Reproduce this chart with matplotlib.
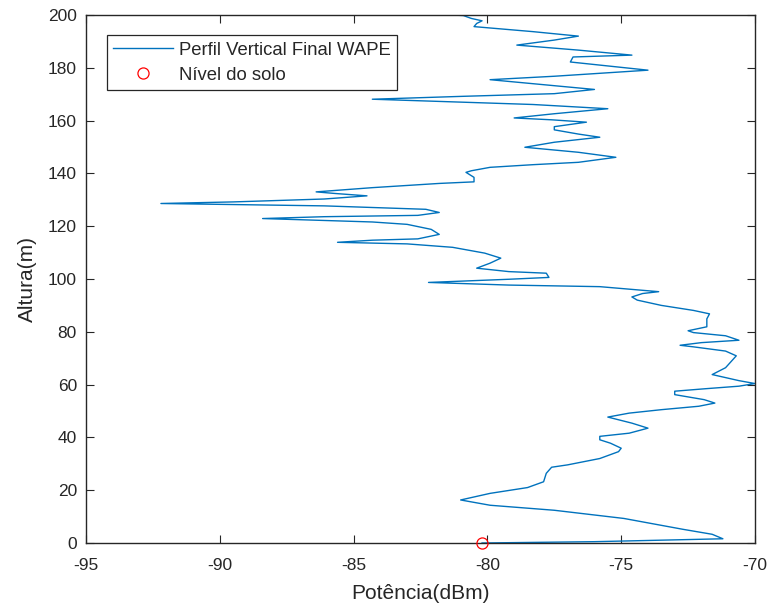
import matplotlib
matplotlib.use("Agg")
import matplotlib.pyplot as plt

plt.rcParams['font.family'] = ['Liberation Sans', 'DejaVu Sans']

potencia = [-80.2, -76.0, -71.2, -71.6, -72.7, -74.9, -77.5, -79.9, -81.0, -79.9,
            -78.5, -77.9, -77.8, -77.6, -77.0, -75.8, -75.1, -75.0, -75.4, -75.8,
            -75.8, -74.7, -74.0, -74.6, -75.5, -74.7, -73.5, -72.1, -71.5, -71.9,
            -73.0, -73.0, -71.9, -70.6, -70.0, -70.6, -71.6, -71.1, -70.7, -71.1,
            -72.3, -72.8, -72.0, -70.6, -71.1, -72.3, -72.5, -71.8, -71.8, -71.7,
            -72.3, -73.5, -74.4, -74.6, -74.2, -73.6, -75.8, -79.2, -82.2, -79.2,
            -77.7, -77.8, -79.2, -80.4, -79.9, -79.5, -80.1, -81.3, -83.0, -85.6,
            -84.3, -82.6, -81.8, -82.1, -83.0, -84.3, -88.4, -86.1, -82.6, -81.8,
            -82.3, -86.1, -92.2, -89.5, -86.1, -84.5, -85.7, -86.4, -84.3, -81.8,
            -80.5, -80.5, -80.8, -80.6, -79.9, -78.3, -76.6, -75.2, -76.6, -78.6,
            -77.5, -75.8, -76.6, -77.5, -77.5, -76.3, -77.6, -79.0, -77.5, -75.5,
            -78.3, -84.3, -80.9, -77.5, -76.0, -78.3, -79.9, -77.5, -74.0, -75.8,
            -76.9, -76.8, -74.6, -76.6, -78.9, -77.5, -76.6, -78.3, -80.5, -80.4,
            -80.2, -80.6, -80.9, -82.0]
altura = [0.0, 0.5, 1.6, 3.3, 5.2, 9.3, 12.4, 14.3, 16.3, 18.8,
          21.0, 23.2, 26.4, 28.7, 29.6, 32.0, 34.6, 35.9, 37.8, 39.1,
          40.4, 41.6, 43.5, 45.4, 47.7, 49.2, 50.5, 51.8, 53.0, 54.3,
          56.2, 57.5, 58.4, 59.4, 60.4, 61.5, 63.8, 66.4, 70.9, 72.7,
          74.3, 74.9, 75.9, 76.8, 78.5, 79.7, 80.4, 81.9, 84.9, 86.8,
          88.1, 90.0, 92.0, 93.2, 94.5, 95.2, 97.1, 97.7, 98.7, 99.9,
          100.6, 102.2, 102.8, 104.1, 106.0, 107.9, 109.8, 112.0, 113.3, 113.9,
          114.7, 115.2, 116.9, 118.8, 120.7, 121.6, 122.9, 123.6, 124.1, 125.2,
          126.4, 127.7, 128.6, 129.2, 130.3, 131.5, 132.4, 133.0, 134.6, 136.2,
          136.8, 138.5, 140.4, 141.0, 142.3, 143.3, 144.2, 146.1, 148.0, 149.9,
          151.8, 153.7, 154.9, 156.5, 157.7, 159.4, 160.3, 161.0, 162.6, 164.5,
          166.1, 168.1, 169.2, 170.2, 171.8, 174.0, 175.5, 176.8, 179.1, 181.0,
          182.2, 184.1, 184.8, 186.7, 188.6, 190.5, 192.0, 193.7, 195.6, 196.8,
          197.8, 198.7, 199.8, 200.3]

solo_x = [-80.2]
solo_y = [0.0]

xticks = [-95, -90, -85, -80, -75, -70]
yticks = [0, 20, 40, 60, 80, 100, 120, 140, 160, 180, 200]

fig = plt.figure(figsize=(7.73, 6.10), dpi=100)
ax = fig.add_axes([86/773, 67/610, 669/773, 528/610])

ax.plot(potencia, altura, color='#0072BD', lw=1.0, label='Perfil Vertical Final WAPE')
ax.plot(solo_x, solo_y, 'o', mfc='none', mec='red', ms=8, mew=0.9,
        clip_on=False, label='Nível do solo', zorder=5)

ax.set_xlim(-95, -70)
ax.set_ylim(0, 200)
ax.set_xticks(xticks)
ax.set_yticks(yticks)
ax.set_xticklabels([str(v) for v in xticks])
ax.set_yticklabels([str(v) for v in yticks])

gray = '#262626'
for s in ax.spines.values():
    s.set_color(gray)
    s.set_linewidth(1.0)
ax.tick_params(direction='in', top=True, right=True, length=6, width=0.8,
               colors=gray, labelsize=12.5)
ax.tick_params(axis='x', pad=11)
ax.tick_params(axis='y', pad=6.5)
ax.set_xlabel('Potência(dBm)', fontsize=15, color=gray)
ax.set_ylabel('Altura(m)', fontsize=15, color=gray)
ax.xaxis.set_label_coords(0.5, -0.078)
ax.yaxis.set_label_coords(-0.073, 0.5)

leg = ax.legend(loc='upper left', bbox_to_anchor=(0.031, 0.962), borderaxespad=0,
                fancybox=False, framealpha=1, edgecolor='#262626', fontsize=13.3,
                handlelength=3.25, handletextpad=0.3, borderpad=0.35, labelspacing=0.45)
leg.get_frame().set_linewidth(0.9)
for t in leg.get_texts():
    t.set_color(gray)

fig.savefig('out.png', dpi=100)
